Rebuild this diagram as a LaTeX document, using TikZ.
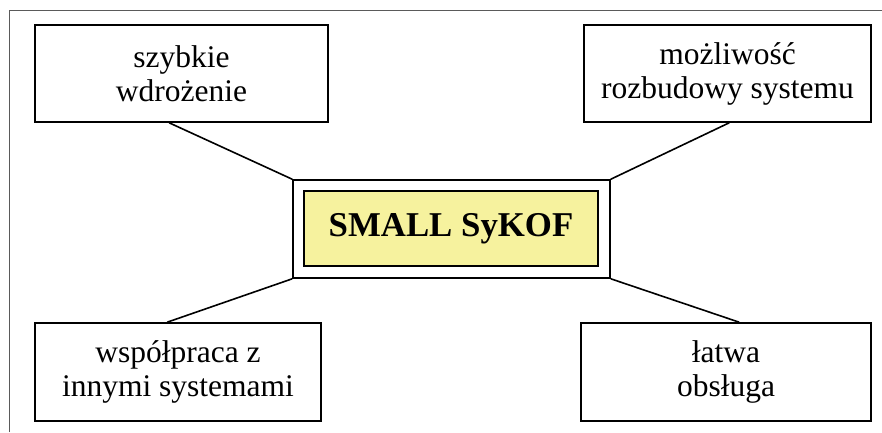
\documentclass[tikz,border=0pt]{standalone}
\usepackage{fontspec}
\setmainfont{Liberation Serif}
\usetikzlibrary{calc}
\definecolor{paleyellow}{RGB}{246,242,158}
\definecolor{framegray}{RGB}{90,90,90}
\begin{document}
\begin{tikzpicture}[x=1pt,y=-1pt,
  box/.style={draw=black,line width=1.6pt,rectangle,inner sep=0pt,align=center,
    font=\fontsize{31.5}{34}\selectfont},
  link/.style={draw=black,line width=1.6pt}]
\useasboundingbox (0,0) rectangle (882,432);
\draw[framegray,line width=0.9pt] (9,432) -- (9,10) -- (882,10);
\node[box,minimum width=293pt,minimum height=97pt] (tl) at (181.5,73.5) {szybkie\\wdrożenie};
\node[box,minimum width=287pt,minimum height=97pt] (tr) at (727.5,73.5) {możliwość\\rozbudowy systemu};
\node[box,minimum width=286pt,minimum height=98pt] (bl) at (178,372) {współpraca z\\innymi systemami};
\node[box,minimum width=290pt,minimum height=98pt] (br) at (726,372) {łatwa\\obsługa};
\node[box,minimum width=317pt,minimum height=98pt] (c) at (451.5,229) {};
\node[draw=black,line width=1.6pt,fill=paleyellow,minimum width=294pt,minimum height=75pt,inner sep=0pt,
  font=\fontsize{34.8}{40}\selectfont\bfseries] (ci) at (451,228.5) {SMALL SyKOF};
\draw[link] ($(tl.south west)+(135,0)$) -- (c.north west);
\draw[link] ($(tr.south west)+(146,0)$) -- (c.north east);
\draw[link] ($(bl.north west)+(133,0)$) -- (c.south west);
\draw[link] ($(br.north west)+(159,0)$) -- (c.south east);
\end{tikzpicture}
\end{document}
